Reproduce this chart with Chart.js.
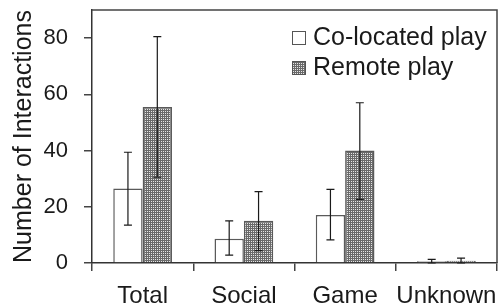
<!DOCTYPE html>
<html>
<head>
<meta charset="utf-8">
<script src="https://cdn.jsdelivr.net/npm/chart.js@4.4.1/dist/chart.umd.min.js"></script>
<style>
  html,body{margin:0;padding:0;background:#fff;}
  #wrap{width:500px;height:307px;position:relative;}
</style>
</head>
<body>
<div id="wrap"><canvas id="chart" width="500" height="307"></canvas></div>
<script>
// data
const categories = ["Total", "Social", "Game", "Unknown"];
const seriesNames = ["Co-located play", "Remote play"];
const coLocated = [26.5, 8.6, 17.1, 0.6];
const coLocatedLow = [13.5, 2.8, 8.2, 0.0];
const coLocatedHigh = [39.4, 15.0, 26.2, 1.3];
const remote = [55.5, 15.0, 40.0, 0.8];
const remoteLow = [30.5, 4.4, 22.6, 0.0];
const remoteHigh = [80.5, 25.4, 57.0, 1.7];
const yTicks = [0, 20, 40, 60, 80];
const yMax = 90;

// dotted grey fill for the remote bars (dark grid, light dots)
function makePattern(){
  const c = document.createElement("canvas"); c.width = 2; c.height = 2;
  const g = c.getContext("2d");
  g.fillStyle = "#6a6a6a"; g.fillRect(0,0,2,2);
  g.fillStyle = "#e6e6e6"; g.fillRect(1,1,1,1);
  return g.createPattern(c, "repeat");
}

const FONT = "'Liberation Sans', Arial, sans-serif";

const errorBars = {
  id: "errorBars",
  afterDatasetsDraw(chart){
    const ctx = chart.ctx, y = chart.scales.y;
    chart.data.datasets.forEach((ds, i) => {
      const meta = chart.getDatasetMeta(i);
      meta.data.forEach((bar, j) => {
        const x = bar.x;
        const lo = y.getPixelForValue(ds.errLow[j]);
        const hi = y.getPixelForValue(ds.errHigh[j]);
        ctx.save();
        ctx.strokeStyle = "#1a1a1a"; ctx.lineWidth = 1.2;
        ctx.beginPath();
        ctx.moveTo(x, lo); ctx.lineTo(x, hi);
        ctx.moveTo(x-4, lo); ctx.lineTo(x+4, lo);
        ctx.moveTo(x-4, hi); ctx.lineTo(x+4, hi);
        ctx.stroke();
        ctx.restore();
      });
    });
  }
};

const frameAndLegend = {
  id: "frameAndLegend",
  afterDraw(chart){
    const ctx = chart.ctx, a = chart.chartArea;
    ctx.save();
    ctx.strokeStyle = "#444"; ctx.lineWidth = 1.5;
    ctx.beginPath();
    ctx.moveTo(a.left, a.top); ctx.lineTo(a.right, a.top); ctx.lineTo(a.right, a.bottom);
    ctx.stroke();
    // legend, stacked in the top right corner
    ctx.font = "25px " + FONT;
    ctx.textBaseline = "alphabetic";
    chart.data.datasets.forEach((ds, i) => {
      const base = a.top + 35 + i * 30;
      const bx = 292;
      ctx.fillStyle = ds.backgroundColor;
      ctx.fillRect(bx, base - 14, 14, 14);
      ctx.strokeStyle = "#555"; ctx.lineWidth = 1;
      ctx.strokeRect(bx + 0.5, base - 13.5, 13, 13);
      ctx.fillStyle = "#1a1a1a";
      ctx.fillText(ds.label, bx + 21, base);
    });
    ctx.restore();
  }
};

const ctx = document.getElementById("chart").getContext("2d");
new Chart(ctx, {
  type: "bar",
  data: {
    labels: categories,
    datasets: [
      { label: seriesNames[0], data: coLocated, errLow: coLocatedLow, errHigh: coLocatedHigh,
        backgroundColor: "#ffffff", borderColor: "#5a5a5a", borderWidth: 1.5 },
      { label: seriesNames[1], data: remote, errLow: remoteLow, errHigh: remoteHigh,
        backgroundColor: makePattern(), borderColor: "#5a5a5a", borderWidth: 1.5 }
    ]
  },
  options: {
    responsive: false,
    animation: false,
    layout: { padding: { top: 10, right: 3, left: 0, bottom: 0 } },
    datasets: { bar: { barPercentage: 1, categoryPercentage: 0.58 } },
    plugins: { legend: { display: false }, tooltip: { enabled: false } },
    scales: {
      x: {
        afterFit(s){ s.height = 44; s.paddingLeft = 0; s.paddingRight = 0; },
        grid: { offset: true, drawOnChartArea: false, drawTicks: true, tickLength: 8, color: "#444", lineWidth: 1.5 },
        border: { color: "#333", width: 1.5 },
        ticks: { color: "#1a1a1a", font: { family: FONT, size: 24 }, padding: 11,
                 autoSkip: false, maxRotation: 0, minRotation: 0 }
      },
      y: {
        min: 0, max: yMax,
        afterFit(s){ s.width = 92; s.paddingTop = 0; s.paddingBottom = 0; },
        afterBuildTicks(s){ s.ticks = yTicks.map(v => ({ value: v })); },
        grid: { drawOnChartArea: false, drawTicks: true, tickLength: 8, color: "#444", lineWidth: 1.5 },
        border: { color: "#333", width: 1.5 },
        ticks: { color: "#1a1a1a", font: { family: FONT, size: 22 }, padding: 16 },
        title: { display: true, text: "Number of Interactions", color: "#1a1a1a",
                 font: { family: FONT, size: 25 }, padding: { top: 9, bottom: 0 } }
      }
    }
  },
  plugins: [errorBars, frameAndLegend]
});
</script>
</body>
</html>
